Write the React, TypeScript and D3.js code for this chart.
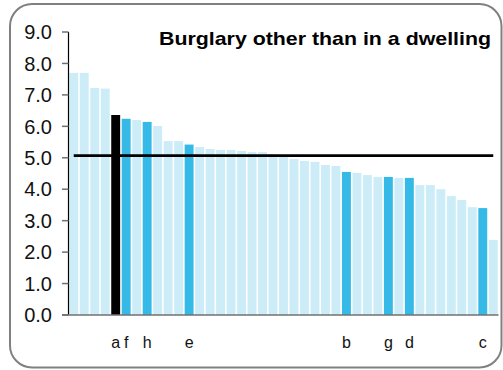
import React from "react";
import * as d3 from "d3";

const values: number[] = [
  7.7, 7.7, 7.22, 7.2, 6.36, 6.24, 6.2, 6.14, 6.01, 5.53, 5.53, 5.42, 5.34,
  5.28, 5.25, 5.25, 5.22, 5.18, 5.18, 5.12, 5.05, 4.96, 4.9, 4.87, 4.77, 4.74,
  4.55, 4.52, 4.45, 4.39, 4.39, 4.36, 4.36, 4.13, 4.13, 4.0, 3.78, 3.66, 3.43,
  3.4, 2.39,
];
// label letter per bar ("" = unlabelled)
const labels: string[] = values.map(() => "");
const labelIdx: number[] = [4, 5, 7, 11, 26, 30, 32, 39];
const labelText: string[] = ["a", "f", "h", "e", "b", "g", "d", "c"];
labelIdx.forEach((i, k) => (labels[i] = labelText[k]));
const highlightBlack: number[] = [4];
const meanValue = 5.07;
const yTicks: number[] = [0, 1, 2, 3, 4, 5, 6, 7, 8, 9];
const title = "Burglary other than in a dwelling";

const W = 503;
const H = 370;
const font = "'Liberation Sans', Arial, sans-serif";

export default function App() {
  const idx = values.map((_, i) => i);
  const x = d3
    .scaleBand<number>()
    .domain(idx)
    .range([68.5, 498.5])
    .paddingInner(0.15)
    .paddingOuter(0.075);
  const y = d3.scaleLinear().domain([0, 9]).range([315, 32]);

  const color = (i: number) =>
    highlightBlack.includes(i) ? "#000000" : labels[i] ? "#35BAE8" : "#CCEDF8";

  const first = x(0)! + x.bandwidth() / 2;
  const last = x(values.length - 1)! + x.bandwidth() / 2;

  return (
    <svg
      width={W}
      height={H}
      style={{ position: "absolute", left: 0, top: 0, background: "#fff" }}
    >
      <rect
        x={10}
        y={4}
        width={491.5}
        height={363.5}
        rx={22}
        ry={22}
        fill="#fff"
        stroke="#808080"
        strokeWidth={2}
      />
      {idx.map((i) => (
        <rect
          key={i}
          x={x(i)}
          y={y(values[i])}
          width={x.bandwidth()}
          height={y(0) - y(values[i])}
          fill={color(i)}
        />
      ))}
      {/* mean line */}
      <line
        x1={first}
        x2={last}
        y1={y(meanValue)}
        y2={y(meanValue)}
        stroke="#000"
        strokeWidth={2.6}
      />
      {/* y axis */}
      <line x1={68.5} x2={68.5} y1={y(9)} y2={y(0)} stroke="#000" strokeWidth={1.2} />
      <line x1={62} x2={498.5} y1={y(0)} y2={y(0)} stroke="#707070" strokeWidth={1.5} />
      {yTicks.map((t) => (
        <g key={t}>
          <line x1={62} x2={68.5} y1={y(t)} y2={y(t)} stroke="#707070" strokeWidth={1.5} />
          <text
            x={52}
            y={y(t)}
            dy="0.36em"
            textAnchor="end"
            fontFamily={font}
            fontSize={20}
            fill="#111"
          >
            {t.toFixed(1)}
          </text>
        </g>
      ))}
      {idx
        .filter((i) => labels[i])
        .map((i) => (
          <text
            key={"l" + i}
            x={x(i)! + x.bandwidth() / 2}
            y={348}
            textAnchor="middle"
            fontFamily={font}
            fontSize={16}
            fill="#111"
          >
            {labels[i]}
          </text>
        ))}
      <text
        x={159}
        y={45}
        fontFamily={font}
        fontSize={19}
        fontWeight="bold"
        fill="#000"
        textLength={332}
        lengthAdjust="spacingAndGlyphs"
      >
        {title}
      </text>
    </svg>
  );
}
